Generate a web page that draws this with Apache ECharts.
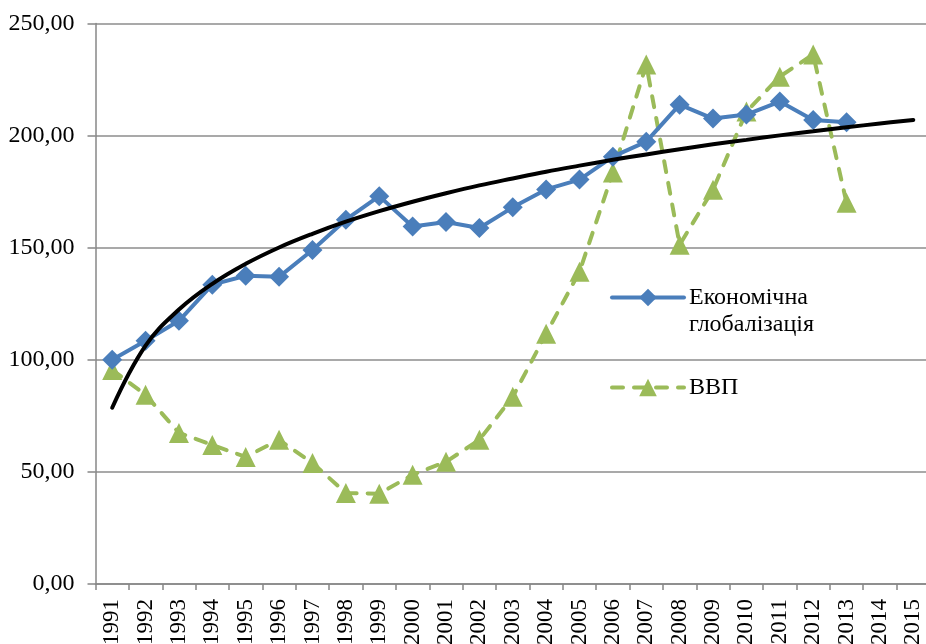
<!DOCTYPE html>
<html>
<head>
<meta charset="utf-8">
<script src="https://cdn.jsdelivr.net/npm/echarts@6/dist/echarts.min.js"></script>
<style>
  html, body { margin: 0; padding: 0; background: #fff; }
  #main { width: 926px; height: 644px; }
</style>
</head>
<body>
<div id="main"></div>
<script>
// роки
const years = ['1991', '1992', '1993', '1994', '1995', '1996', '1997', '1998', '1999', '2000',
  '2001', '2002', '2003', '2004', '2005', '2006', '2007', '2008', '2009', '2010',
  '2011', '2012', '2013', '2014', '2015']

// Економічна глобалізація
const globalization = [100, 108.5, 117.4, 133.5, 137.5, 137, 149, 162.5, 173, 159.5,
  161.5, 158.8, 168, 176, 180.4, 190.6, 197.3, 213.8, 207.6, 209.4,
  215.2, 207, 206]

// ВВП
const gdp = [95.5, 84.4, 67.4, 62, 56.7, 64.3, 54, 40.6, 40.3, 48.7,
  54.5, 64.3, 83.5, 111.6, 139.3, 183.5, 231.7, 151.3, 175.9, 210.7,
  226.3, 236.2, 170]

// лінія тренду
const trend = [78.6, 106.3, 122.4, 133.9, 142.8, 150.1, 156.2, 161.6, 166.3, 170.5,
  174.3, 177.8, 180.9, 183.9, 186.6, 189.2, 191.6, 193.9, 196.1, 198.1,
  200.1, 201.9, 203.7, 205.4, 207]

const font = 'Liberation Serif'
const nameGlob = 'Економічна\nглобалізація'
const myChart = echarts.init(document.getElementById('main'))

const legendText = { fontFamily: font, fontSize: 24, color: '#000', lineHeight: 27 }

const option = {
  animation: false,
  textStyle: { fontFamily: font },
  grid: { left: 95.5, right: -4, top: 23.5, bottom: 60, outerBoundsMode: 'none' },
  legend: [
    {
      data: [nameGlob],
      left: 610,
      top: 257,
      padding: 0,
      itemWidth: 72,
      itemHeight: 22,
      lineStyle: { width: 4 },
      textStyle: legendText,
      // порожній рядок зверху, щоб значок стояв навпроти першого рядка
      formatter: name => '\n' + name,
    },
    {
      data: ['ВВП'],
      left: 610,
      top: 374,
      padding: 0,
      itemWidth: 72,
      itemHeight: 22,
      lineStyle: { width: 4 },
      textStyle: legendText,
    },
  ],
  xAxis: {
    type: 'category',
    data: years,
    boundaryGap: true,
    axisLine: { lineStyle: { color: '#878787', width: 1.5 } },
    axisTick: { show: true, length: 6, lineStyle: { color: '#878787', width: 1.5 } },
    axisLabel: { rotate: 90, fontFamily: font, fontSize: 23, color: '#000', margin: 15, interval: 0 },
  },
  yAxis: {
    type: 'value',
    min: 0,
    max: 250,
    interval: 50,
    axisLine: { show: true, lineStyle: { color: '#878787', width: 1.5 } },
    axisTick: { show: true, length: 8, lineStyle: { color: '#878787', width: 1.5 } },
    splitLine: { lineStyle: { color: '#8c8c8c', width: 1.5 } },
    axisLabel: {
      fontFamily: font,
      fontSize: 24,
      color: '#000',
      margin: 21,
      formatter: v => v.toFixed(2).replace('.', ','),
    },
  },
  series: [
    {
      name: nameGlob,
      type: 'line',
      data: globalization,
      symbol: 'diamond',
      symbolSize: 20,
      itemStyle: { color: '#4a7ebb' },
      lineStyle: { color: '#4a7ebb', width: 4, cap: 'round' },
      z: 3,
    },
    {
      name: 'ВВП',
      type: 'line',
      data: gdp,
      symbol: 'triangle',
      symbolSize: 20,
      itemStyle: { color: '#9bbb59' },
      lineStyle: { color: '#9bbb59', width: 4, type: [11, 11], cap: 'round' },
      z: 2,
    },
    {
      name: 'trend',
      type: 'line',
      data: trend,
      smooth: 0.4,
      symbol: 'none',
      lineStyle: { color: '#000', width: 4, cap: 'round' },
      z: 4,
    },
  ],
}

option && myChart.setOption(option)
</script>
</body>
</html>
